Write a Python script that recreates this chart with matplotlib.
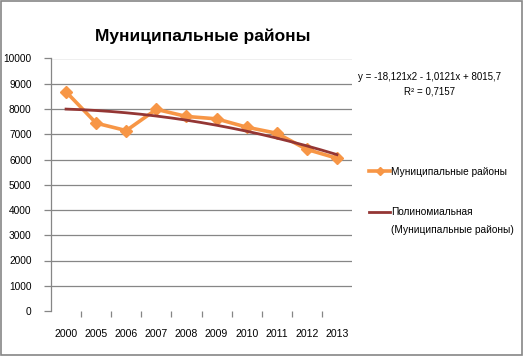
import matplotlib
matplotlib.use("Agg")
import matplotlib.pyplot as plt
import numpy as np
from matplotlib.patches import Rectangle

years = ["2000", "2005", "2006", "2007", "2008", "2009", "2010", "2011", "2012", "2013"]
values = [8680, 7440, 7145, 7985, 7705, 7610, 7280, 7040, 6400, 6050]
trend_coeffs = [-18.121, -1.0121, 8015.7]
series_name = "Муниципальные районы"
trend_name = "Полиномиальная"
trend_name2 = "(Муниципальные районы)"
eq_text = "y = -18,121x2 - 1,0121x + 8015,7"
r2_text = "R² = 0,7157"

plt.rcParams['font.family'] = ['Liberation Sans', 'DejaVu Sans']

W, H = 525, 357
fig = plt.figure(figsize=(W / 100, H / 100), dpi=100)
fig.patch.set_facecolor("white")

left, right, top, bottom = 51, 352, 58.5, 311
ax = fig.add_axes([left / W, 1 - bottom / H, (right - left) / W, (bottom - top) / H])

n = len(years)
x = np.arange(n)
ax.plot(x, values, color="#F79646", lw=2.6, marker="D", ms=6, mec="#F79646",
        mfc="#F79646", zorder=3, label=series_name)
xs = np.linspace(0, n - 1, 200)
ax.plot(xs, np.polyval(trend_coeffs, xs + 1), color="#943634", lw=2.0, zorder=4,
        label=trend_name)

ax.set_xlim(-0.5, n - 0.5)
ax.set_ylim(0, 10000)
ax.set_yticks(np.arange(0, 10001, 1000))
ax.set_yticklabels([str(v) for v in range(0, 10001, 1000)], fontsize=7.3)
for yv in range(1000, 10001, 1000):
    ax.axhline(yv, color="#868686", lw=0.9, zorder=1)

ax.set_xticks(x)
ax.set_xticklabels(years, fontsize=7.6)
ax.set_xticks(np.arange(0.5, n - 1, 1.0), minor=True)
ax.tick_params(axis="x", which="major", length=0, pad=13)
ax.tick_params(axis="x", which="minor", length=4, color="#868686", width=0.9)
ax.tick_params(axis="y", length=5, color="#868686", width=0.9, pad=9)

for s in ["top", "right", "bottom"]:
    ax.spines[s].set_visible(False)
ax.spines["left"].set_color("#868686")
ax.spines["left"].set_linewidth(0.9)

fig.text(203 / W, 1 - 36 / H, "Муниципальные районы", ha="center", va="center",
         fontsize=12.5, fontweight="bold")

fig.text(430 / W, 1 - 77 / H, eq_text, ha="center", va="center", fontsize=7)
fig.text(430 / W, 1 - 92 / H, r2_text, ha="center", va="center", fontsize=7)

leg = fig.legend(loc="upper left", bbox_to_anchor=(366 / W, 1 - 164 / H), frameon=False,
                 fontsize=7.3, handlelength=2.1, handletextpad=0.05, labelspacing=3.0,
                 borderaxespad=0, borderpad=0.3, markerscale=0.75)
fig.canvas.draw()
bb = leg.get_texts()[1].get_window_extent()
fig.text(bb.x0 / W, ((bb.y0 + bb.y1) / 2 - 18) / H, trend_name2, ha="left", va="center",
         fontsize=7.3)

fig.add_artist(Rectangle((1 / W, 1 - 355 / H), 521 / W, 354 / H, transform=fig.transFigure,
                         fill=False, edgecolor="#868686", lw=1.2))

fig.savefig("out.png", dpi=100)
